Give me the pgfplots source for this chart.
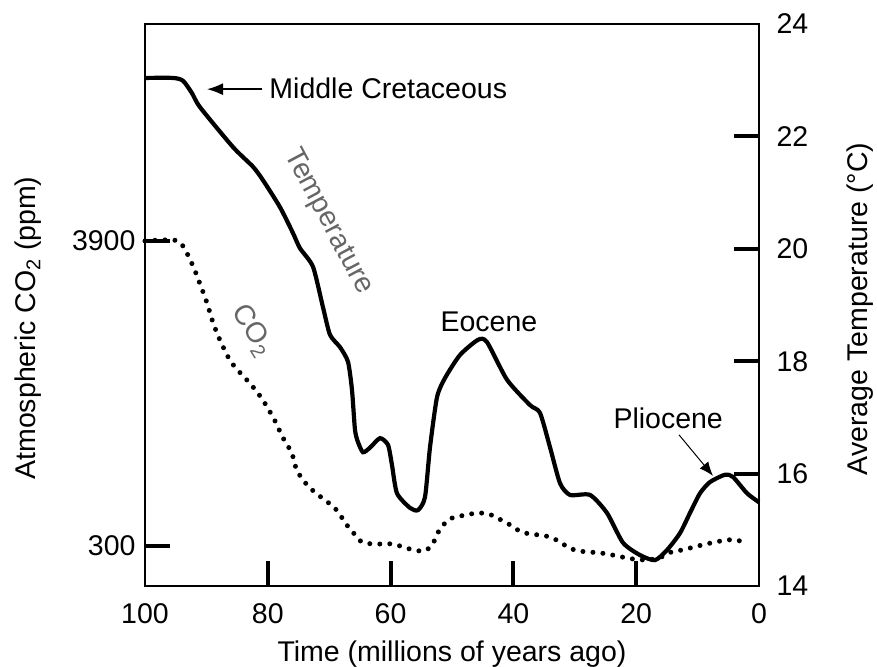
\documentclass[border=0pt]{standalone}
\usepackage{fontspec}
\setmainfont{Liberation Sans}
\usepackage{pgfplots}
\usepackage{pgfplotstable}
\pgfplotsset{compat=1.18}
\usetikzlibrary{arrows.meta}

\pgfplotstableread{
t T
100.00 23.04
95.44 23.04
93.81 22.99
92.35 22.77
91.04 22.52
85.67 21.81
82.41 21.46
80.78 21.22
78.01 20.74
75.90 20.28
74.76 20.01
72.64 19.68
71.01 18.96
69.87 18.47
68.24 18.25
66.94 17.99
66.29 17.49
65.80 16.78
65.31 16.56
64.50 16.38
63.36 16.46
61.73 16.63
60.42 16.51
59.77 16.15
58.96 15.65
56.84 15.39
55.54 15.35
54.40 15.58
53.58 16.47
52.44 17.36
51.14 17.70
48.70 18.11
45.77 18.38
44.30 18.34
41.04 17.67
37.30 17.22
35.67 17.08
34.04 16.47
32.41 15.83
30.78 15.62
27.52 15.62
24.76 15.30
22.15 14.77
19.38 14.55
16.94 14.46
14.98 14.64
12.87 14.94
11.24 15.30
9.61 15.65
7.98 15.85
5.54 15.98
4.23 15.94
1.95 15.65
0.00 15.49
}\temptable

\pgfplotstableread{
t ppm
100.0 3900
94.6 3900
92.4 3640
91.1 3404
89.9 3168
88.9 2932
87.8 2731
86.2 2495
84.9 2377
83.4 2259
82.4 2177
80.8 2023
78.9 1787
77.6 1587
76.1 1398
75.3 1197
74.0 1055
72.4 937
70.7 843
69.1 749
68.0 642
67.0 536
65.9 442
64.7 347
62.9 324
61.3 324
59.7 324
57.9 288
56.3 253
54.5 241
53.2 312
52.5 430
51.7 524
50.4 619
48.6 654
47.0 678
45.2 689
43.6 666
42.0 607
40.5 548
39.0 477
37.4 442
35.8 430
34.0 406
32.4 347
30.9 276
29.3 241
27.6 229
25.7 217
23.9 194
22.3 170
20.5 147
18.4 135
16.3 158
14.3 229
12.5 253
10.6 288
8.6 324
7.0 347
5.4 371
3.7 371
2.1 335
}\cotable

\begin{document}
\begin{tikzpicture}
\path[use as bounding box] (-145pt,-80pt) rectangle (732pt,586pt);
\pgfplotsset{
  common/.style={
    scale only axis, width=614pt, height=562pt,
    xmin=0, xmax=100, x dir=reverse,
    clip=false,
    axis line style={line width=1.6pt},
    tick align=inside, major tick length=25pt,
    tick style={line width=4pt, black},
    ticklabel style={font=\fontsize{28.5}{32}\selectfont},
    label style={font=\fontsize{28.5}{32}\selectfont},
    /pgf/number format/assume math mode=true,
    /pgf/number format/1000 sep={},
    scaled ticks=false,
  }
}
\begin{axis}[common,
  ymin=-172, ymax=6461,
  xtick={20,40,60,80},
  extra x ticks={0,100},
  extra x tick style={tick style={draw=none}},
  xtick pos=bottom, ytick pos=left,
  ytick={300,3900},
  x tick label style={yshift=-14pt},
  y tick label style={xshift=-6pt},
  xlabel={Time (millions of years ago)},
  xlabel style={at={(axis description cs:0.5,0)}, anchor=base, yshift=-75pt},
  ylabel={Atmospheric CO\textsubscript{2} (ppm)},
  ylabel style={at={(axis description cs:-0.179,0.459)}, anchor=base, rotate=0},
]
\addplot[black, line width=5pt, line cap=round, dash pattern=on 0pt off 10pt, smooth, tension=0.4] table[x=t, y=ppm] {\cotable};
\end{axis}
\begin{axis}[common,
  ymin=14, ymax=24,
  hide x axis,
  axis y line*=right,
  ytick={16,18,20,22},
  extra y ticks={14,24},
  extra y tick style={tick style={draw=none}},
  y tick label style={xshift=14pt},
  ylabel={Average Temperature (°C)},
  ylabel style={at={(axis description cs:1.1775,0.493)}, anchor=base, rotate=0},
]
\addplot[black, line width=4.2pt, smooth, tension=0.4] table[x=t, y=T] {\temptable};
\node[anchor=base west, font=\fontsize{28.5}{32}\selectfont] at (axis cs:80.3,22.68) {Middle Cretaceous};
\draw[line width=1.5pt, -{Latex[length=16pt, width=12pt]}] (axis cs:80.9,22.84) -- (axis cs:89.9,22.84);
\node[rotate=-62, text=black!60, font=\fontsize{28.5}{32}\selectfont] at (axis cs:70.2,20.48) {Temperature};
\node[rotate=-58, text=black!60, font=\fontsize{28.5}{32}\selectfont] at (axis cs:82.6,18.55) {CO\textsubscript{2}};
\node[anchor=base west, font=\fontsize{28.5}{32}\selectfont] at (axis cs:52.44,18.52) {Eocene};
\node[anchor=base west, font=\fontsize{28.5}{32}\selectfont] at (axis cs:24.27,16.81) {Pliocene};
\draw[line width=1pt, -{Latex[length=14pt, width=11pt]}] (axis cs:13.03,16.69) -- (axis cs:7.49,15.96);
\end{axis}
\end{tikzpicture}
\end{document}
